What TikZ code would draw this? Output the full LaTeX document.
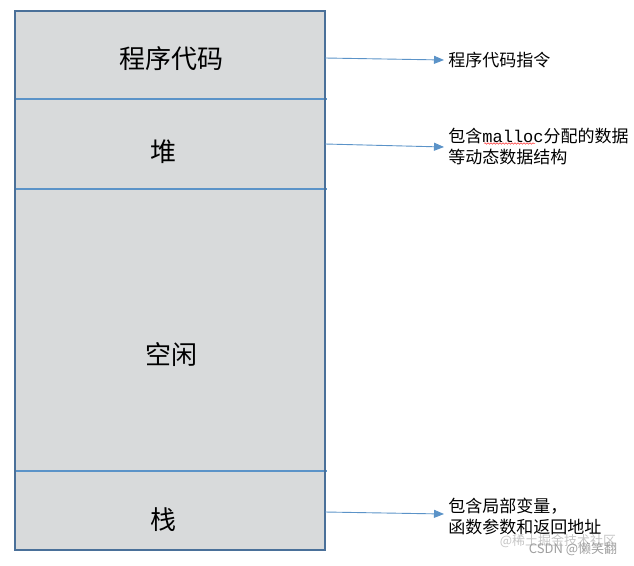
\documentclass[tikz,border=0pt]{standalone}
\usepackage{fontspec}
\setmainfont{Noto Sans CJK SC}
\setmonofont{Liberation Mono}
\usepackage{xcolor}
\usetikzlibrary{arrows.meta,decorations.pathmorphing}
\definecolor{boxfill}{HTML}{D8DADB}
\definecolor{boxedge}{HTML}{4A7099}
\definecolor{lineblue}{HTML}{5B93C8}

\begin{document}
\begin{tikzpicture}[x=1pt, y=-1pt, thick,
  seg/.style={fill=boxfill, minimum width=310pt, inner sep=0pt, outer sep=0pt},
  seglbl/.style={font=\fontsize{26}{30}\selectfont},
  info/.style={anchor=west, align=left, inner sep=4pt, font=\fontsize{17}{21}\selectfont},
  divline/.style={lineblue, line width=1.6pt},
  arr/.style={lineblue, line width=0.9pt, -{Triangle[length=10pt, width=8pt]}}]
\useasboundingbox (0,0) rectangle (634,565);
% memory segments
\node[seg, minimum height=88pt] (code) at (170,55) {};
\node[seg, minimum height=90pt] (heap) at (170,144) {};
\node[seg, minimum height=282pt] (free) at (170,330) {};
\node[seg, minimum height=79pt] (stack) at (170,510.5) {};
\draw[divline] (code.south west) -- ([xshift=2pt]code.south east);
\draw[divline] (heap.south west) -- ([xshift=2pt]heap.south east);
\draw[divline] (free.south west) -- ([xshift=2pt]free.south east);
\draw[boxedge, line width=2pt] (code.north west) rectangle (stack.south east);
\node[seglbl] (codelbl) at (171,59) {程序代码};
\node[seglbl] (heaplbl) at (163,152) {堆};
\node[seglbl] (freelbl) at (171,355) {空闲};
\node[seglbl] (stacklbl) at (163,520) {栈};
% descriptions
\node[info] (codeinfo) at (444,60) {程序代码指令};
\node[info] (heapinfo) at (444,147) {包含{\ttfamily\fontsize{17}{21}\selectfont malloc}分配的数据\\等动态数据结构};
\node[info] (stackinfo) at (444,516) {包含局部变量，\\函数参数和返回地址};
\draw[red!80, line width=0.5pt, decorate, decoration={snake, amplitude=0.8pt, segment length=3pt}]
  (484,143.5) -- (535,143.5);
\draw[arr] ([yshift=-3pt]code.east) -- (codeinfo.west);
\draw[arr] (heap.east) -- (heapinfo.west);
\draw[arr] ([yshift=-1.5pt]stack.east) -- ([yshift=2pt]stackinfo.west);
% watermark
\node[gray!45, font=\fontsize{13}{14}\selectfont, inner sep=0pt] (mark1) at (558,541) {@稀土掘金技术社区};
\node[gray!75, font=\fontsize{13}{14}\selectfont, inner sep=0pt] (mark2) at (573,549) {CSDN @懒笑翻};
\end{tikzpicture}
\end{document}
